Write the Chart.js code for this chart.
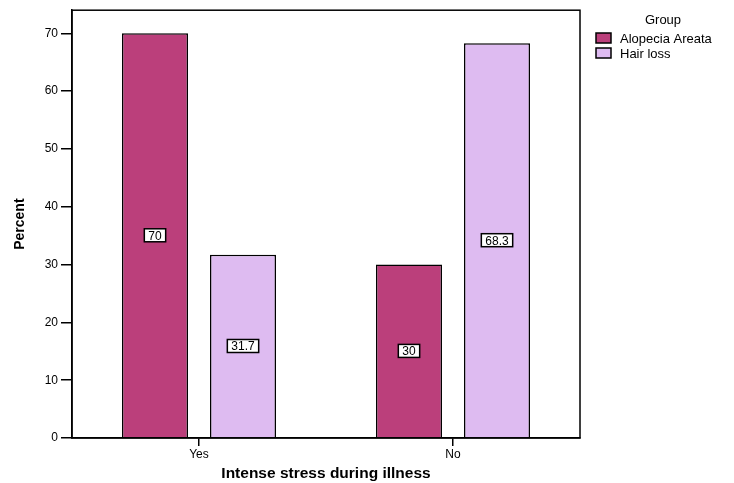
<title>Intense stress during illness</title>
<script src="https://cdn.jsdelivr.net/npm/chart.js@4"></script>

<div style="width:734px;height:483px;"><canvas id="stressChart"></canvas></div>

<script>
  const categories = ["Yes", "No"];
  const groupNames = ["Alopecia Areata", "Hair loss"];
  const alopeciaValues = [70, 30];
  const hairLossValues = [31.7, 68.3];
  const yTicks = [0, 10, 20, 30, 40, 50, 60, 70];

  const colors = ["#bb3f7b", "#debbf1"];
  const font = "'Liberation Sans', Arial";

  // white boxed value in middle of each bar
  const valueBoxes = {
    id: "valueBoxes",
    afterDatasetsDraw(chart) {
      const ctx = chart.ctx;
      ctx.save();
      ctx.font = "12px " + font;
      ctx.textAlign = "center";
      ctx.textBaseline = "middle";
      chart.data.datasets.forEach((ds, i) => {
        chart.getDatasetMeta(i).data.forEach((bar, j) => {
          const txt = String(ds.data[j]);
          const x = bar.x;
          const y = (bar.y + bar.base) / 2;
          const w = ctx.measureText(txt).width + 8;
          const h = 13;
          ctx.fillStyle = "#fff";
          ctx.fillRect(x - w / 2, y - h / 2, w, h);
          ctx.strokeStyle = "#000";
          ctx.lineWidth = 1.5;
          ctx.strokeRect(x - w / 2, y - h / 2, w, h);
          ctx.fillStyle = "#000";
          ctx.fillText(txt, x, y + 1);
        });
      });
      ctx.restore();
    }
  };

  // box round plot + legend at right, SPSS style
  const frame = {
    id: "frame",
    afterDraw(chart) {
      const a = chart.chartArea;
      const ctx = chart.ctx;
      ctx.save();
      ctx.strokeStyle = "#000";
      ctx.lineWidth = 1.5;
      ctx.strokeRect(a.left, a.top, a.right - a.left, a.bottom - a.top);

      const lx = a.right + 16;
      ctx.fillStyle = "#000";
      ctx.font = "13px " + font;
      ctx.textAlign = "center";
      ctx.textBaseline = "middle";
      ctx.fillText("Group", lx + 67, 20);
      ctx.textAlign = "left";
      chart.data.datasets.forEach((ds, i) => {
        const cy = 38 + i * 15;
        ctx.fillStyle = colors[i];
        ctx.fillRect(lx, cy - 5, 15, 10);
        ctx.strokeRect(lx, cy - 5, 15, 10);
        ctx.fillStyle = "#000";
        ctx.fillText(ds.label, lx + 24, cy + 1);
      });
      ctx.restore();
    }
  };

  new Chart(document.getElementById("stressChart"), {
    type: "bar",
    data: {
      labels: categories,
      datasets: [
        { label: groupNames[0], data: alopeciaValues, backgroundColor: colors[0], borderColor: "#000", borderWidth: 1.5 },
        { label: groupNames[1], data: hairLossValues, backgroundColor: colors[1], borderColor: "#000", borderWidth: 1.5 }
      ]
    },
    options: {
      responsive: true,
      maintainAspectRatio: false,
      animation: false,
      categoryPercentage: 0.693,
      barPercentage: 0.75,
      layout: { padding: { top: 5, right: 154 } },
      plugins: {
        tooltip: { enabled: false },
        legend: { display: false }
      },
      scales: {
        x: {
          grid: { display: true, drawOnChartArea: false, offset: false, color: "#000", tickLength: 8, lineWidth: 1.5 },
          border: { display: true, color: "#000", width: 1.5 },
          ticks: { color: "#000", font: { family: font, size: 12 }, padding: 1 },
          title: { display: true, text: "Intense stress during illness", color: "#000", font: { family: font, size: 15.5, weight: "bold" }, padding: { top: 1, bottom: 0 } },
          afterFit(s) { s.height = 45; }
        },
        y: {
          min: 0,
          max: 74,
          afterBuildTicks(s) { s.ticks = yTicks.map(v => ({ value: v })); },
          grid: { display: true, drawOnChartArea: false, color: "#000", tickLength: 11, lineWidth: 1.5 },
          border: { display: true, color: "#000", width: 1.5 },
          ticks: { color: "#000", font: { family: font, size: 12 }, padding: 3 },
          title: { display: true, text: "Percent", color: "#000", font: { family: "'Liberation Sans Narrow', " + font, size: 14, weight: "bold" }, padding: { top: 12, bottom: 0 } },
          afterFit(s) { s.width = 72; }
        }
      }
    },
    plugins: [valueBoxes, frame]
  });
</script>

<style>
  body {
    margin: 0;
  }
</style>
